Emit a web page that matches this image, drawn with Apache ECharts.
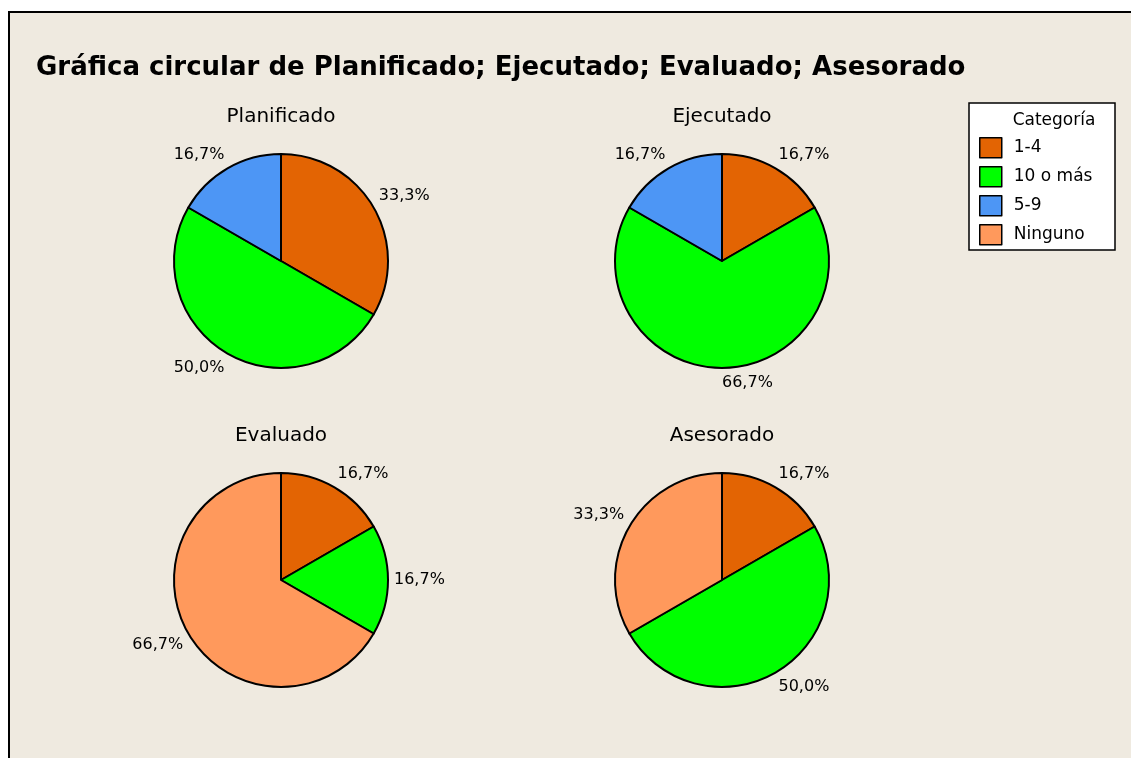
<!DOCTYPE html>
<html>
<head>
<meta charset="utf-8">
<script src="https://cdn.jsdelivr.net/npm/echarts@6/dist/echarts.min.js"></script>
<style>
  html, body { margin: 0; padding: 0; background: #fff; }
  #main { width: 1131px; height: 758px; }
</style>
</head>
<body>
<div id="main"></div>
<script>
// datos (conteos por categoría)
var categorias = ['1-4', '10 o más', '5-9', 'Ninguno'];
var colores = ['#E36403', '#00FF00', '#4D96F5', '#FF995C'];
var variables = ['Planificado', 'Ejecutado', 'Evaluado', 'Asesorado'];
var planificado = [2, 3, 1, 0];
var ejecutado = [1, 4, 1, 0];
var evaluado = [1, 1, 0, 4];
var asesorado = [1, 3, 0, 2];
var valores = [planificado, ejecutado, evaluado, asesorado];

var fuente = '"DejaVu Sans", sans-serif';
var centros = [[281, 261], [722, 261], [281, 580], [722, 580]];

var myChart = echarts.init(document.getElementById('main'));

var titulos = [{
    text: 'Gráfica circular de Planificado; Ejecutado; Evaluado; Asesorado',
    left: 36, top: 55, padding: 0,
    textStyle: { fontFamily: fuente, fontWeight: 'bold', fontSize: 26, color: '#000' }
}];
var series = [];
variables.forEach(function (nombre, i) {
    titulos.push({
        text: nombre,
        left: centros[i][0], top: centros[i][1] - 154,
        textAlign: 'center', padding: 0,
        textStyle: { fontFamily: fuente, fontWeight: 'normal', fontSize: 20, color: '#000' }
    });
    var total = valores[i].reduce(function (a, b) { return a + b; }, 0);
    var acum = 0;
    var datos = [];
    valores[i].forEach(function (v, j) {
        if (v <= 0) return;
        // arriba / abajo: la etiqueta se apoya por su esquina más cercana al círculo
        var medio = (acum + v / 2) / total * 2 * Math.PI;
        acum += v;
        var c = Math.cos(medio);
        datos.push({
            name: categorias[j], value: v,
            lado: c > 0.2 ? 1 : (c < -0.2 ? -1 : 0),
            itemStyle: { color: colores[j] }
        });
    });
    series.push({
        name: nombre,
        type: 'pie',
        center: centros[i],
        radius: [0, 107],
        startAngle: 90,
        clockwise: true,
        animation: false,
        avoidLabelOverlap: false,
        itemStyle: { borderColor: '#000', borderWidth: 2 },
        label: {
            show: true,
            position: 'outside',
            fontFamily: fuente,
            fontSize: 16,
            lineHeight: 17,
            color: '#000',
            distanceToLabelLine: 0,
            formatter: function (p) {
                var t = p.percent.toFixed(1).replace('.', ',') + '%';
                if (p.data.lado > 0) return t + '\n ';
                if (p.data.lado < 0) return ' \n' + t;
                return t;
            }
        },
        labelLine: { show: false, length: 6, length2: 0 },
        emphasis: { disabled: true },
        data: datos
    });
});

option = {
    backgroundColor: '#fff',
    color: colores,
    title: titulos,
    legend: {
        orient: 'vertical',
        left: 979, top: 137,
        data: categorias,
        icon: 'rect',
        itemWidth: 22, itemHeight: 20,
        itemGap: 7.5,
        itemStyle: { borderColor: '#000', borderWidth: 1.5 },
        selectedMode: false,
        padding: 0,
        textStyle: { fontFamily: fuente, fontSize: 17, color: '#000', padding: [0, 0, 0, 7] }
    },
    graphic: [
        {
            type: 'rect', z: -10, silent: true,
            shape: { x: 9, y: 12, width: 1200, height: 800 },
            style: { fill: '#EFEAE0', stroke: '#000', lineWidth: 2 }
        },
        {
            type: 'rect', z: -5, silent: true,
            shape: { x: 969, y: 103, width: 146, height: 147 },
            style: { fill: '#fff', stroke: '#000', lineWidth: 1.5 }
        },
        {
            type: 'text', silent: true,
            x: 1054, y: 121,
            style: { text: 'Categoría', fontFamily: fuente, fontSize: 17, fill: '#000', align: 'center', verticalAlign: 'middle' }
        }
    ],
    series: series
};

myChart.setOption(option);
</script>
</body>
</html>
